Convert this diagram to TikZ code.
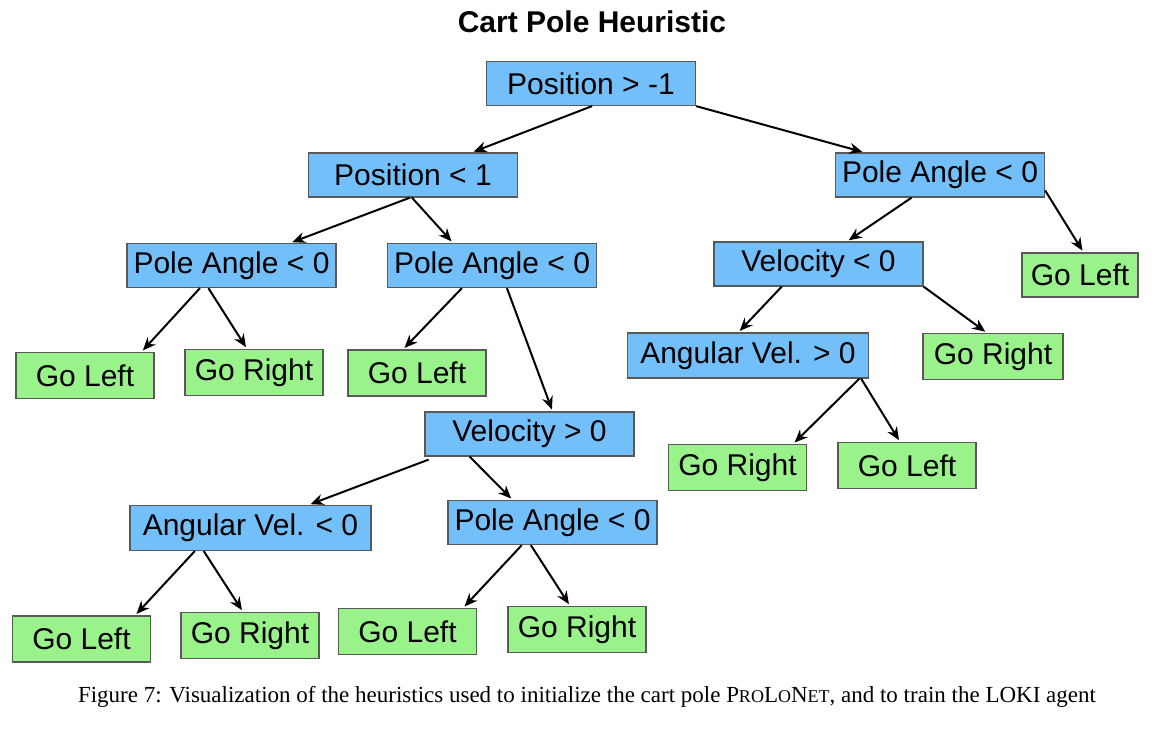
\documentclass[tikz,border=0pt]{standalone}
\usepackage{fontspec}
\setmainfont{Liberation Sans}
\newfontfamily\capfont{Liberation Serif}
\usepackage{tikz}
\usetikzlibrary{positioning, arrows.meta}
\usetikzlibrary{calc}
\definecolor{testblue}{RGB}{115,191,249}
\definecolor{leafgreen}{RGB}{153,243,138}
\newcommand{\fakesc}[1]{{\fontsize{9pt}{9pt}\selectfont #1}}

\begin{document}
\begin{tikzpicture}[x=0.5pt, y=-0.5pt,
		test/.style={draw=black!65, line width=0.6pt, fill=testblue, inner sep=0pt,
			minimum width=104.5pt, minimum height=22pt, font=\fontsize{15pt}{15pt}\selectfont},
		wide/.style={test, minimum width=120.5pt, minimum height=22.5pt},
		leaf/.style={draw=black!65, line width=0.6pt, fill=leafgreen, inner sep=0pt,
			minimum width=69pt, minimum height=23pt, font=\fontsize{15pt}{15pt}\selectfont},
		arr/.style={-{Stealth[length=6.5pt, width=5.5pt]}, line width=1pt, shorten >=1pt}]
		\useasboundingbox (0,0) rectangle (1174,736);
		
		% title
		\node[font=\bfseries\fontsize{15pt}{15pt}\selectfont] (title) at (592,22) {Cart Pole Heuristic};
		
		% decision nodes
		\node[test] (root) at (591,83.5) {Position > -1};
		\node[test] (pos1) at (413,175) {Position < 1};
		\node[test] (paR) at (940,175) {Pole Angle < 0};
		\node[test] (paL1) at (231.5,265.5) {Pole Angle < 0};
		\node[test] (paL2) at (492,265.5) {Pole Angle < 0};
		\node[test] (vel0) at (818.5,264) {Velocity < 0};
		\node[wide] (av0) at (748,355.5) {Angular Vel. > 0};
		\node[test] (velg) at (529.5,434) {Velocity > 0};
		\node[wide] (avl) at (250.5,528) {Angular Vel. < 0};
		\node[test] (pa3) at (552.5,522.5) {Pole Angle < 0};
		
		% leaves
		\node[leaf, minimum width=58pt, minimum height=22pt] (glR) at (1080,275) {Go Left};
		\node[leaf] (gl1) at (85,375.5) {Go Left};
		\node[leaf] (gr1) at (254,372.5) {Go Right};
		\node[leaf] (gl2) at (417,373) {Go Left};
		\node[leaf, minimum width=70pt] (gr2) at (993,356.5) {Go Right};
		\node[leaf] (gr3) at (737.5,467.5) {Go Right};
		\node[leaf] (gl3) at (907,465.5) {Go Left};
		\node[leaf] (gl4) at (81.5,639) {Go Left};
		\node[leaf] (gr4) at (250,635.5) {Go Right};
		\node[leaf] (gl5) at (407.5,631.5) {Go Left};
		\node[leaf] (gr5) at (577,629.5) {Go Right};
		
		% connectors
		\draw[arr] ($(root.south west)!0.505!(root.south east)$) -- ($(pos1.north west)!0.78!(pos1.north east)$);
		\draw[arr] (root.south east) -- ($(paR.north west)!0.14!(paR.north east)$);
		\draw[arr] ($(pos1.south west)!0.486!(pos1.south east)$) -- ($(paL1.north west)!0.78!(paL1.north east)$);
		\draw[arr] ($(pos1.south west)!0.495!(pos1.south east)$) -- ($(paL2.north west)!0.314!(paL2.north east)$);
		\draw[arr] ($(paR.south west)!0.365!(paR.south east)$) -- ($(vel0.north west)!0.636!(vel0.north east)$);
		\draw[arr] ($(paR.north east)!0.84!(paR.south east)$) -- ($(glR.north west)!0.53!(glR.north east)$);
		\draw[arr] ($(paL1.south west)!0.35!(paL1.south east)$) -- ($(gl1.north west)!0.906!(gl1.north east)$);
		\draw[arr] ($(paL1.south west)!0.39!(paL1.south east)$) -- ($(gr1.north west)!0.45!(gr1.north east)$);
		\draw[arr] ($(paL2.south west)!0.357!(paL2.south east)$) -- ($(gl2.north west)!0.4!(gl2.north east)$);
		\draw[arr] ($(paL2.south west)!0.571!(paL2.south east)$) -- ($(velg.north west)!0.61!(velg.north east)$);
		\draw[arr] ($(vel0.south west)!0.325!(vel0.south east)$) -- ($(av0.north west)!0.46!(av0.north east)$);
		\draw[arr] (vel0.south east) -- ($(gr2.north west)!0.457!(gr2.north east)$);
		\draw[arr] ($(av0.south west)!0.96!(av0.south east)$) -- ($(gr3.north west)!0.9!(gr3.north east)$);
		\draw[arr] ($(av0.south west)!0.967!(av0.south east)$) -- ($(gl3.north west)!0.45!(gl3.north east)$);
		\draw[arr] ($(velg.south west)!0.02!(velg.south east)+(0,3)$) -- ($(avl.north west)!0.74!(avl.north east)$);
		\draw[arr] ($(velg.south west)!0.215!(velg.south east)$) -- ($(pa3.north west)!0.31!(pa3.north east)$);
		\draw[arr] ($(avl.south west)!0.27!(avl.south east)$) -- ($(gl4.north west)!0.885!(gl4.north east)$);
		\draw[arr] ($(avl.south west)!0.307!(avl.south east)$) -- ($(gr4.north west)!0.45!(gr4.north east)$);
		\draw[arr] ($(pa3.south west)!0.354!(pa3.south east)$) -- ($(gl5.north west)!0.9!(gl5.north east)$);
		\draw[arr] ($(pa3.south west)!0.397!(pa3.south east)$) -- ($(gr5.north west)!0.45!(gr5.north east)$);
		
		% caption
		\node[font=\capfont\fontsize{11.5pt}{13pt}\selectfont] (caption) at (587,697)
		{Figure 7: Visualization of the heuristics used to initialize the cart pole P\fakesc{RO}L\fakesc{O}N\fakesc{ET}, and to train the LOKI agent};
	\end{tikzpicture}
\end{document}
